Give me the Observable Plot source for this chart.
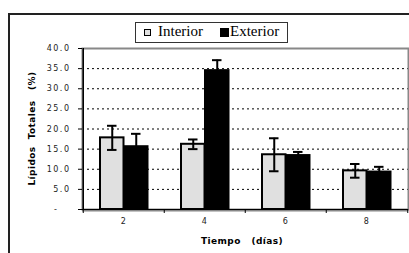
<!DOCTYPE html>
<html><head><meta charset="utf-8">
<script src="https://cdn.jsdelivr.net/npm/d3@7"></script>
<script src="https://cdn.jsdelivr.net/npm/@observablehq/plot@0.6"></script>
<style>
body{margin:0;background:#fff;}
#wrap{position:relative;width:409px;height:253px;overflow:hidden;background:#fff;}
#frame{position:absolute;left:8px;top:13px;width:430px;height:270px;border:2px solid #222;box-sizing:border-box;}
#chart{position:absolute;left:0;top:0;}
#legend{position:absolute;left:135px;top:22px;width:153px;height:21px;border:1px solid #333;box-sizing:border-box;background:#fff;font-family:"Liberation Serif","Times New Roman",serif;font-size:15px;color:#000;}
#legend span{position:absolute;line-height:15px;white-space:nowrap;}
#legend i{position:absolute;box-sizing:border-box;}
</style></head>
<body>
<div id="wrap">
  <div id="frame"></div>
  <div id="chart"></div>
  <div id="legend"></div>
</div>
<script>
const days = ["2", "4", "6", "8"];
const seriesNames = ["Interior", "Exterior"];
const interior = [17.8, 16.2, 13.6, 9.6];
const exterior = [15.6, 34.5, 13.4, 9.3];
const interiorErr = [3.0, 1.2, 4.1, 1.7];
const exteriorErr = [3.2, 2.6, 0.9, 1.3];
const yTicks = [0, 5, 10, 15, 20, 25, 30, 35, 40];
const xLabel = "Tiempo\u00a0\u00a0\u00a0(días)";
const yLabel = "Lípidos\u00a0\u00a0Totales\u00a0\u00a0\u00a0(%)";
const colors = {Interior: "#e0e0e0", Exterior: "#000000"};

const rows = days.map((d, i) => ({
  day: d,
  interior: interior[i], exterior: exterior[i],
  iLo: interior[i] - interiorErr[i], iHi: interior[i] + interiorErr[i],
  eLo: exterior[i] - exteriorErr[i], eHi: exterior[i] + exteriorErr[i]
}));

const half = 81.5 / 2;
const tickFont = {fontFamily: "DejaVu Sans", fontSize: 8};

const chart = Plot.plot({
  width: 409, height: 253,
  marginLeft: 82, marginRight: 1, marginTop: 48, marginBottom: 44,
  style: {fontFamily: "DejaVu Sans", fontSize: "8px", color: "#222", background: "transparent"},
  x: {domain: days, padding: 0, axis: null, label: null},
  y: {domain: [0, 40], axis: null, label: null},
  marks: [
    Plot.gridY(yTicks.filter(d => d > 0), {stroke: "#000", strokeOpacity: 1, strokeWidth: 1, strokeDasharray: "2,3"}),
    Plot.frame({stroke: "#888", strokeWidth: 2}),
    Plot.ruleY([0], {stroke: "#888", strokeWidth: 2, dy: 1}),
    Plot.barY(rows, {x: "day", y: "interior", fill: colors.Interior, stroke: "#000", strokeWidth: 2, insetLeft: 17, insetRight: 40.5}),
    Plot.barY(rows, {x: "day", y: "exterior", fill: colors.Exterior, stroke: "#000", strokeWidth: 2, insetLeft: 41, insetRight: 16.5}),
    Plot.ruleX(rows, {x: "day", y1: "iLo", y2: "iHi", dx: -11.75, stroke: "#000", strokeWidth: 2}),
    Plot.tickY(rows, {x: "day", y: "iLo", insetLeft: 24, insetRight: 47.5, stroke: "#000", strokeWidth: 2}),
    Plot.tickY(rows, {x: "day", y: "iHi", insetLeft: 24, insetRight: 47.5, stroke: "#000", strokeWidth: 2}),
    Plot.ruleX(rows, {x: "day", y1: "eLo", y2: "eHi", dx: 12.25, stroke: "#000", strokeWidth: 2}),
    Plot.tickY(rows, {x: "day", y: "eLo", insetLeft: 48, insetRight: 23.5, stroke: "#000", strokeWidth: 2}),
    Plot.tickY(rows, {x: "day", y: "eHi", insetLeft: 48, insetRight: 23.5, stroke: "#000", strokeWidth: 2}),
    Plot.ruleY([0], {stroke: "#000", strokeWidth: 1}),
    Plot.ruleX([days[0]], {x: d => d, y1: 0, y2: 40, dx: -half, stroke: "#000", strokeWidth: 1.5}),
    Plot.axisX({ticks: days, tickSize: 4, dx: -half, text: null, label: null, stroke: "#000"}),
    Plot.axisX({ticks: [days[3]], tickSize: 4, dx: half, text: null, label: null, stroke: "#000"}),
    Plot.axisX({ticks: days, tickSize: 0, tickPadding: 9, label: null, ...tickFont, fill: "#222"}),
    Plot.axisY({ticks: yTicks, tickSize: 4, tickPadding: 8, ...tickFont, fill: "#222", stroke: "#000",
      tickFormat: d => d === 0 ? "-\u00a0\u00a0\u00a0" : d.toFixed(1), label: null}),
    Plot.text([xLabel], {frameAnchor: "bottom", textAnchor: "middle", lineAnchor: "middle", dy: 32, fontFamily: "DejaVu Sans", fontSize: 9, fontWeight: "bold", fill: "#000"}),
    Plot.text([yLabel], {frameAnchor: "left", textAnchor: "middle", lineAnchor: "middle", dx: -50, rotate: -90, fontFamily: "DejaVu Sans", fontSize: 9, fontWeight: "bold", fill: "#000"})
  ]
});
document.getElementById("chart").appendChild(chart);

// styling pass: letter spacing, and re-centre the two axis titles on their target spots
const targets = new Map([[xLabel, [242, 241]], [yLabel, [32, 128.5]]]);
chart.querySelectorAll("text").forEach(t => {
  const s = t.textContent;
  if (targets.has(s)) {
    t.style.letterSpacing = "0.4px";
    const svgBox = chart.getBoundingClientRect();
    const r = t.getBoundingClientRect();
    const cx = r.left + r.width / 2 - svgBox.left, cy = r.top + r.height / 2 - svgBox.top;
    const [tx, ty] = targets.get(s);
    const g = document.createElementNS("http://www.w3.org/2000/svg", "g");
    g.setAttribute("transform", `translate(${tx - cx},${ty - cy})`);
    t.parentNode.insertBefore(g, t);
    g.appendChild(t);
  } else t.style.letterSpacing = "1.5px";
});

// legend
const legend = document.getElementById("legend");
const legendItems = [
  {name: seriesNames[0], mLeft: 8, mTop: 6, mSize: 7, border: "1.5px solid #000", textLeft: 22},
  {name: seriesNames[1], mLeft: 84, mTop: 5, mSize: 9, border: "none", textLeft: 94}
];
legendItems.forEach(it => {
  const m = document.createElement("i");
  m.style.cssText = `left:${it.mLeft}px;top:${it.mTop}px;width:${it.mSize}px;height:${it.mSize}px;background:${colors[it.name]};border:${it.border};`;
  legend.appendChild(m);
  const s = document.createElement("span");
  s.textContent = it.name;
  s.style.left = it.textLeft + "px";
  s.style.top = "1px";
  legend.appendChild(s);
});
</script>
</body></html>
